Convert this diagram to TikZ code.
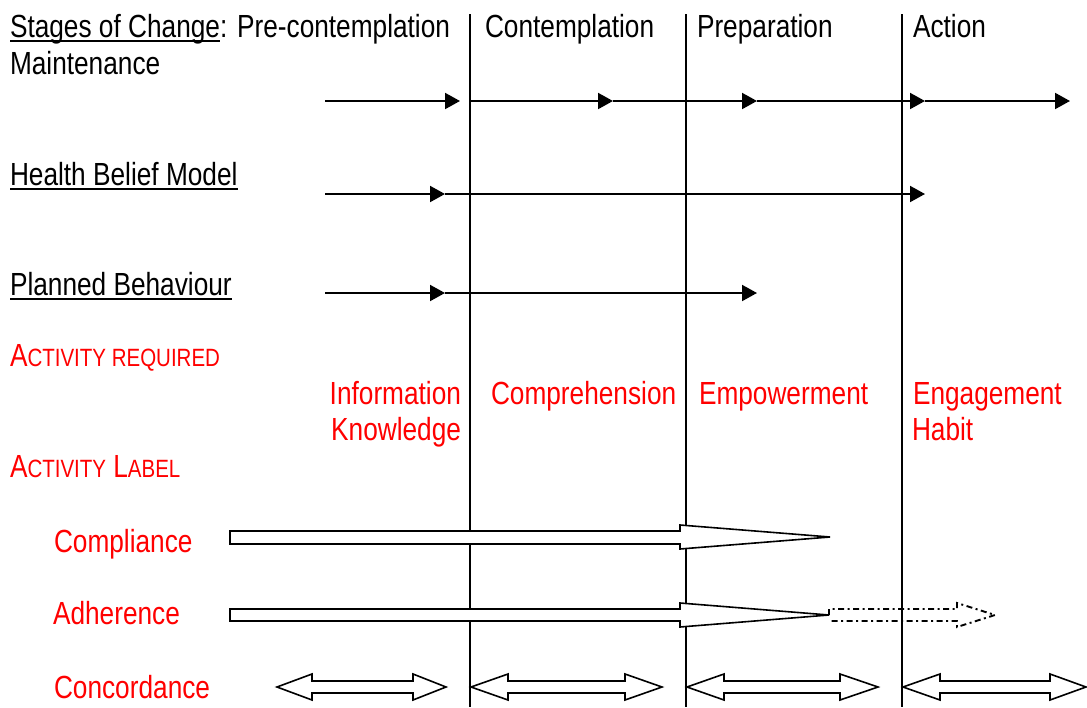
\documentclass[tikz,border=0pt]{standalone}
\usepackage{fontspec}
\setmainfont[FakeStretch=0.82]{Liberation Sans}
\usetikzlibrary{arrows.meta}
\definecolor{lblred}{RGB}{255,0,0}
\newcommand\smallcap[1]{{\fontsize{25}{28}\selectfont #1}}
\begin{document}
\begin{tikzpicture}[x=1pt,y=-1pt,
  txt/.style={inner sep=0pt, outer sep=0pt, anchor=base west, font=\fontsize{32}{37}\selectfont},
  txtr/.style={txt, anchor=base east},
  redtxt/.style={text=lblred},
  stageline/.style={line width=2.2pt},
  flow/.style={line width=2pt, -{Triangle[length=15pt,width=16pt]}},
  hollow/.style={draw, line width=1.6pt, fill=white, line join=miter},
  dashhollow/.style={draw, line width=1.9pt, dash pattern=on 6pt off 3.5pt on 2pt off 3.5pt, line join=miter},
  uline/.style={line width=2pt}]
\fill[white] (0,0) rectangle (1087,707);
\useasboundingbox (0,0) rectangle (1087,707);

% stage separators
\coordinate (v1t) at (470,14); \coordinate (v1b) at (470,707);
\coordinate (v2t) at (686,14); \coordinate (v2b) at (686,707);
\coordinate (v3t) at (902,14); \coordinate (v3b) at (902,707);
\draw[stageline] (v1t) -- (v1b);
\draw[stageline] (v2t) -- (v2b);
\draw[stageline] (v3t) -- (v3b);

% header texts
\node[txt] (soc) at (10,37) {Stages of Change};
\node[txt] (pre) at (soc.base east) {: Pre-contemplation};
\draw[uline] ([yshift=-4pt]soc.base west) -- ([yshift=-4pt]soc.base east);
\node[txt] (con) at (485,37) {Contemplation};
\node[txt] (prep) at (697,37) {Preparation};
\node[txt] (act) at (913,37) {Action};
\node[txt] (mai) at (10,74) {Maintenance};

\node[txt] (hbm) at (10,185) {Health Belief Model};
\draw[uline] ([yshift=-4pt]hbm.base west) -- ([yshift=-4pt]hbm.base east);
\node[txt] (pb) at (10,295) {Planned Behaviour};
\draw[uline] ([yshift=-4pt]pb.base west) -- ([yshift=-4pt]pb.base east);

% row arrows
\coordinate (a0) at (325,101); \coordinate (a1) at (460,101);
\coordinate (a2) at (471,101); \coordinate (a3) at (613,101);
\coordinate (a4) at (757,101); \coordinate (a5) at (925,101);
\coordinate (a6) at (1070,101);
\draw[flow] (a0) -- (a1);
\draw[flow] (a2) -- (a3);
\draw[flow] (a3) -- (a4);
\draw[flow] (a4) -- (a5);
\draw[flow] (a5) -- (a6);

\coordinate (b0) at (325,194); \coordinate (b1) at (445,194); \coordinate (b2) at (925,194);
\draw[flow] (b0) -- (b1);
\draw[flow] (b1) -- (b2);

\coordinate (c0) at (325,293); \coordinate (c1) at (445,293); \coordinate (c2) at (757,293);
\draw[flow] (c0) -- (c1);
\draw[flow] (c1) -- (c2);

% activity required
\node[txt, redtxt] (areq) at (10,366) {A\smallcap{CTIVITY REQUIRED}};
\node[txtr, redtxt] (inf) at (461,404) {Information};
\node[txtr, redtxt] (kno) at (461,440) {Knowledge};
\node[txt, redtxt] (comp) at (491,404) {Comprehension};
\node[txt, redtxt] (emp) at (699,404) {Empowerment};
\node[txt, redtxt] (eng) at (913,404) {Engagement};
\node[txt, redtxt] (hab) at (912,440) {Habit};
\node[txt, redtxt] (alab) at (10,477) {A\smallcap{CTIVITY} L\smallcap{ABEL}};

\node[txt, redtxt] (cpl) at (54,552) {Compliance};
\node[txt, redtxt] (adh) at (53,624) {Adherence};
\node[txt, redtxt] (cnc) at (54,698) {Concordance};

% compliance arrow
\path[hollow] (230,531) -- (680,531) -- (680,525) -- (830,537) -- (680,549) -- (680,544) -- (230,544) -- cycle;
% adherence arrow
\path[hollow] (230,609) -- (680,609) -- (680,603) -- (829,615) -- (680,627) -- (680,621) -- (230,621) -- cycle;
% dashed continuation
\path[dashhollow] (829,615) -- (829,609) -- (957,609) -- (957,603) -- (995,615) -- (957,627) -- (957,621) -- (829,621);

% concordance double arrows
\path[hollow] (277,687) -- (312,674) -- (312,681) -- (413,681) -- (413,674) -- (446,687) -- (413,700) -- (413,693) -- (312,693) -- (312,700) -- cycle;
\path[hollow] (471,687) -- (508,674) -- (508,681) -- (625,681) -- (625,674) -- (662,687) -- (625,700) -- (625,693) -- (508,693) -- (508,700) -- cycle;
\path[hollow] (687,687) -- (724,674) -- (724,681) -- (840,681) -- (840,674) -- (878,687) -- (840,700) -- (840,693) -- (724,693) -- (724,700) -- cycle;
\path[hollow] (903,687) -- (940,674) -- (940,681) -- (1050,681) -- (1050,674) -- (1086,687) -- (1050,700) -- (1050,693) -- (940,693) -- (940,700) -- cycle;
\end{tikzpicture}
\end{document}
